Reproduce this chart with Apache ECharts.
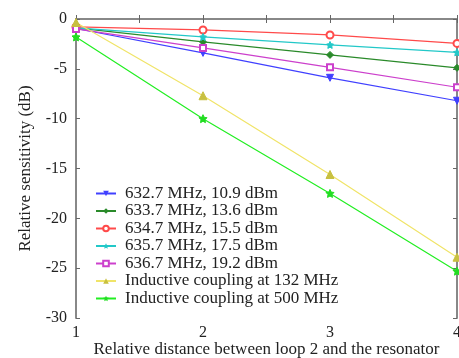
<!DOCTYPE html>
<html>
<head>
<meta charset="utf-8">
<script src="https://cdn.jsdelivr.net/npm/echarts@6/dist/echarts.min.js"></script>
<style>html,body{margin:0;padding:0;background:#fff}#c{width:459px;height:358px}</style>
</head>
<body>
<div id="c"></div>
<script>
const distances = [1, 2, 3, 4];
const seriesNames = [
  '632.7 MHz, 10.9 dBm',
  '633.7 MHz, 13.6 dBm',
  '634.7 MHz, 15.5 dBm',
  '635.7 MHz, 17.5 dBm',
  '636.7 MHz, 19.2 dBm',
  'Inductive coupling at 132 MHz',
  'Inductive coupling at 500 MHz'
];
const s6327 = [-0.95, -3.4, -5.9, -8.2];
const s6337 = [-0.9, -2.3, -3.6, -4.9];
const s6347 = [-0.8, -1.1, -1.6, -2.45];
const s6357 = [-0.9, -1.8, -2.6, -3.35];
const s6367 = [-1.0, -2.9, -4.85, -6.85];
const ind132 = [-0.35, -7.7, -15.6, -23.9];
const ind500 = [-1.8, -10.0, -17.5, -25.3];
const yTicks = [0, -5, -10, -15, -20, -25, -30];

const STAR = 'path://M0,-10 L2.9,-4 L9.5,-3.1 L4.8,1.5 L5.9,8.1 L0,5 L-5.9,8.1 L-4.8,1.5 L-9.5,-3.1 L-2.9,-4 Z';
const styles = [
  {color:'#4040ff', mcolor:'#4040ff', symbol:'triangle', rot:180, size:7},
  {color:'#2a8a2a', mcolor:'#2a8a2a', symbol:'diamond', rot:0, size:7},
  {color:'#ff4a4a', mcolor:'#ff4a4a', symbol:'emptyCircle', rot:0, size:7},
  {color:'#22c8c8', mcolor:'#22c8c8', symbol:STAR, rot:0, size:7},
  {color:'#cc40cc', mcolor:'#cc40cc', symbol:'emptyRect', rot:0, size:6},
  {color:'#f0e468', mcolor:'#c8c040', symbol:'triangle', rot:0, size:8},
  {color:'#22ee22', mcolor:'#22dd22', symbol:STAR, rot:0, size:8}
];
const allData = [s6327, s6337, s6347, s6357, s6367, ind132, ind500];

const font = 'Liberation Serif';
const axisLineStyle = {color:'#888', width:2};
const chart = echarts.init(document.getElementById('c'), null, {renderer:'canvas'});
chart.setOption({
  animation:false,
  grid:{left:76, right:2, top:19, bottom:40, outerBoundsMode:'none', containLabel:false},
  legend:{
    orient:'vertical', left:95, top:185, padding:0, itemWidth:20, itemHeight:7, itemGap:0.5,
    textStyle:{fontFamily:font, fontSize:17, color:'#222', padding:[0,0,0,4]},
    data:seriesNames
  },
  xAxis:[{
    type:'value', min:1, max:4, interval:0.5, position:'bottom',
    name:'Relative distance between loop 2 and the resonator', nameLocation:'middle', nameGap:23,
    nameMoveOverlap:false,
    nameTextStyle:{fontFamily:font, fontSize:17, color:'#222'},
    axisLine:{lineStyle:axisLineStyle},
    axisTick:{inside:true, length:4, lineStyle:{color:'#666'}},
    splitLine:{show:false},
    axisLabel:{fontFamily:font, fontSize:16, color:'#222', margin:7,
      formatter:v => Number.isInteger(v) ? String(v) : ''}
  },{
    type:'value', min:1, max:4, interval:0.5, position:'top',
    axisLine:{lineStyle:axisLineStyle},
    axisTick:{inside:true, length:4, lineStyle:{color:'#666'}},
    splitLine:{show:false}, axisLabel:{show:false}
  }],
  yAxis:[{
    type:'value', min:-30, max:0, interval:5, position:'left',
    name:'Relative sensitivity (dB)', nameLocation:'middle', nameGap:42,
    nameMoveOverlap:false,
    nameTextStyle:{fontFamily:font, fontSize:17, color:'#222'},
    axisLine:{show:true, lineStyle:axisLineStyle},
    axisTick:{show:true, inside:true, length:4, lineStyle:{color:'#666'}},
    splitLine:{show:false},
    axisLabel:{fontFamily:font, fontSize:16, color:'#222', margin:9,
      formatter:v => yTicks.includes(v) ? String(v) : ''}
  },{
    type:'value', min:-30, max:0, interval:5, position:'right',
    axisLine:{show:true, lineStyle:axisLineStyle},
    axisTick:{show:true, inside:true, length:4, lineStyle:{color:'#666'}},
    splitLine:{show:false}, axisLabel:{show:false}
  }],
  series: allData.map((d, i) => ({
    name: seriesNames[i],
    type:'line',
    xAxisIndex:0, yAxisIndex:0,
    data: d.map((v, j) => [distances[j], v]),
    symbol: styles[i].symbol,
    symbolRotate: styles[i].rot,
    symbolSize: styles[i].size,
    lineStyle:{color:styles[i].color, width:1.2},
    itemStyle:{color:styles[i].mcolor, borderColor:styles[i].mcolor},
    z: 2
  }))
});
</script>
</body>
</html>
